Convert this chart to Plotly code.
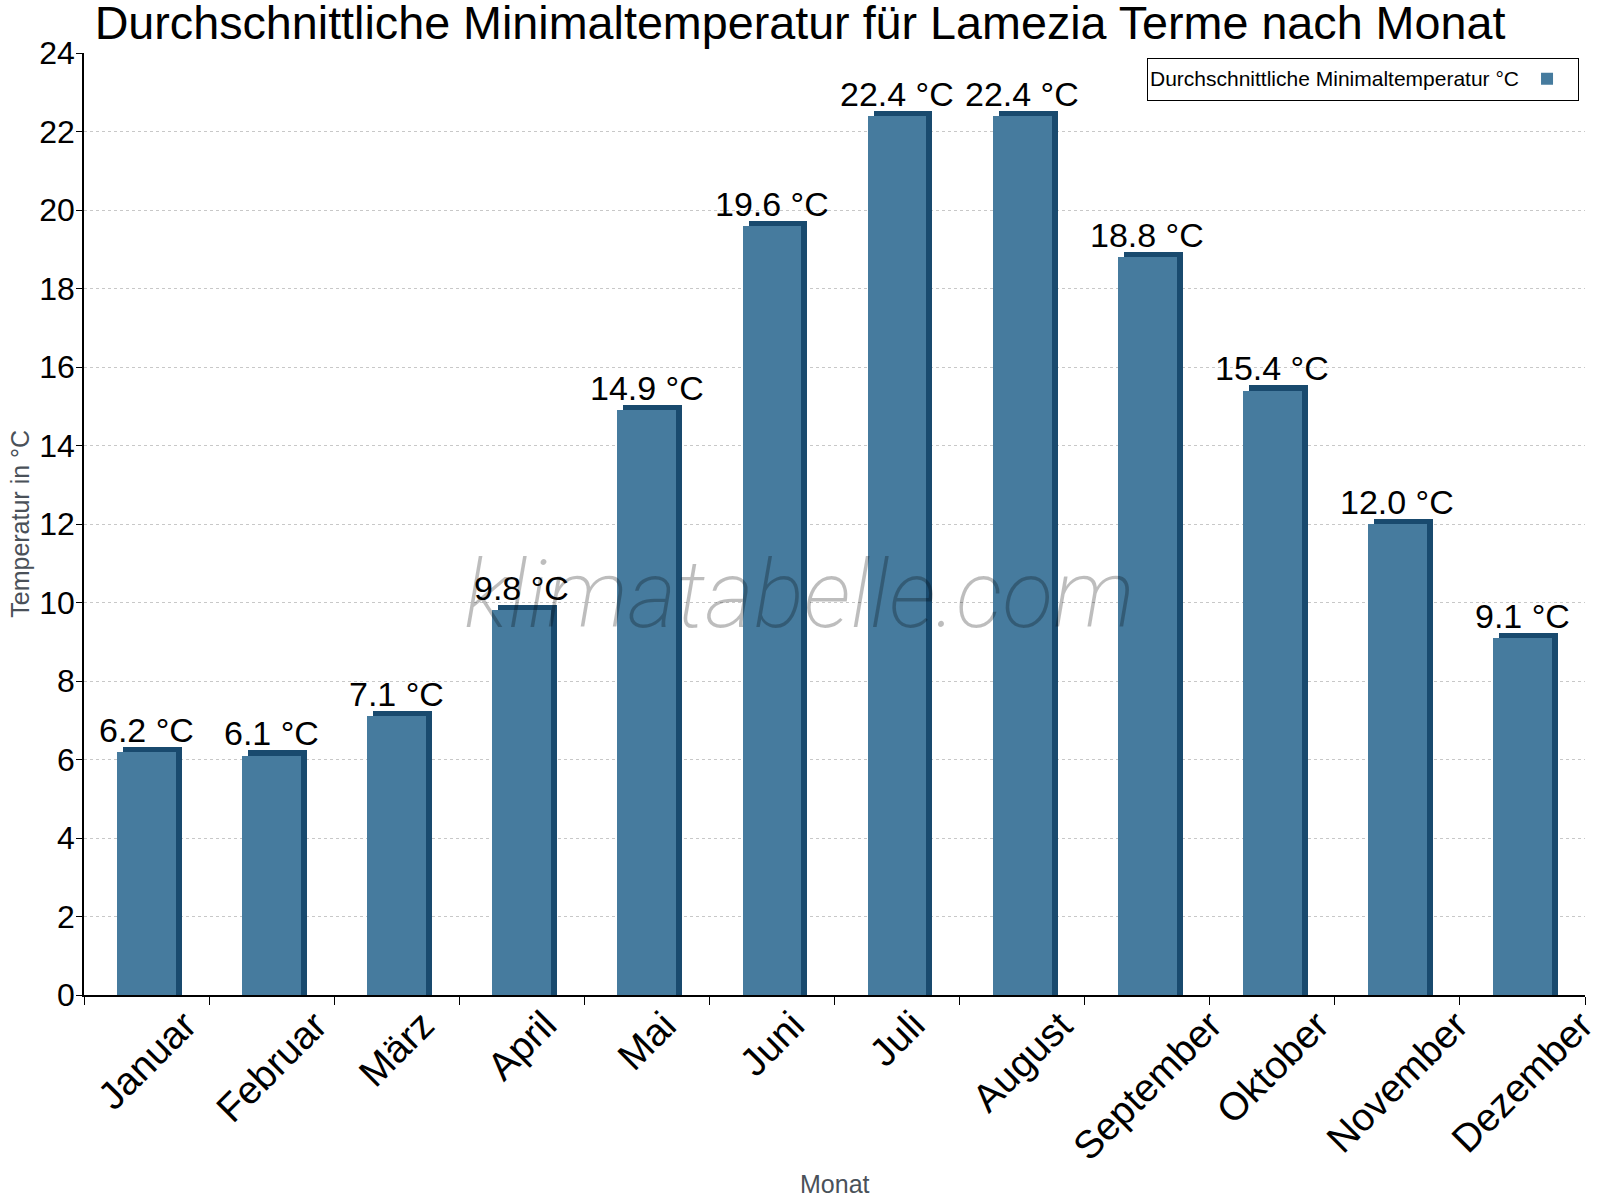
import plotly.graph_objects as go

months = ["Januar", "Februar", "März", "April", "Mai", "Juni", "Juli",
          "August", "September", "Oktober", "November", "Dezember"]
min_temp = [6.2, 6.1, 7.1, 9.8, 14.9, 19.6, 22.4, 22.4, 18.8, 15.4, 12.0, 9.1]
y_ticks = [0, 2, 4, 6, 8, 10, 12, 14, 16, 18, 20, 22, 24]

title_text = "Durchschnittliche Minimaltemperatur für Lamezia Terme nach Monat"
legend_text = "Durchschnittliche Minimaltemperatur °C"
x_title = "Monat"
y_title = "Temperatur in °C"
watermark = "klimatabelle.com"

FRONT = "#467b9e"
SIDE = "#194a6e"
AXIS_TITLE = "#4a5159"
FONT = "Liberation Sans, Arial, sans-serif"

bar_w = 0.47
depth_x = 0.048
depth_y = 0.13

fig = go.Figure()
# 3D depth (side + top) drawn as a darker bar shifted right/up
fig.add_trace(go.Bar(
    x=months, y=[v + depth_y for v in min_temp],
    width=bar_w, offset=-bar_w / 2 + depth_x,
    marker=dict(color=SIDE, line=dict(width=0)),
    showlegend=False, hoverinfo="skip"))
# front face
fig.add_trace(go.Bar(
    x=months, y=min_temp, name=" ",
    width=bar_w, offset=-bar_w / 2,
    marker=dict(color=FRONT, line=dict(color=SIDE, width=0)),
    showlegend=True))

# value labels
for m, v in zip(months, min_temp):
    fig.add_annotation(x=m, y=v + depth_y, text=f"{v:.1f} °C", showarrow=False,
                       yanchor="bottom", xanchor="center", yshift=-4,
                       font=dict(family=FONT, size=34, color="black"))

# rotated month labels, centred under each category
for m in months:
    fig.add_annotation(x=m, xref="x", yref="paper", y=0, yshift=-5,
                       text=m, showarrow=False, textangle=-45,
                       xanchor="center", yanchor="top",
                       font=dict(family=FONT, size=39, color="black"))

# axis titles
fig.add_annotation(xref="paper", yref="paper", x=0.5, y=-0.2006,
                   text=x_title, showarrow=False, xanchor="center", yanchor="middle",
                   font=dict(family=FONT, size=25, color=AXIS_TITLE))
fig.add_annotation(xref="paper", yref="paper", x=-0.0428, y=0.5,
                   text=y_title, showarrow=False, textangle=-90,
                   xanchor="center", yanchor="middle",
                   font=dict(family=FONT, size=25, color=AXIS_TITLE))

fig.add_annotation(xref="paper", yref="paper", x=0.477, y=0.425,
                   text=watermark, showarrow=False,
                   font=dict(family="Roboto, sans-serif", size=94,
                             color="rgba(0,0,0,0.26)", style="italic", weight=200))

fig.update_layout(
    width=1600, height=1200,
    paper_bgcolor="white", plot_bgcolor="white",
    barmode="overlay", bargap=0,
    margin=dict(l=84, r=15, t=53, b=205, autoexpand=False),
    font=dict(family=FONT, color="black"),
    title=dict(text=title_text, x=0.5, xanchor="center", y=0.981, yanchor="middle",
               pad=dict(t=0, b=0),
               font=dict(family=FONT, size=46.7, color="black")),
    legend=dict(
        title=dict(text=legend_text, side="left", font=dict(family=FONT, size=21)),
        x=0.996, xanchor="right", y=0.995, yanchor="top",
        bordercolor="black", borderwidth=1, bgcolor="white",
        font=dict(family=FONT, size=21), itemwidth=30,
        tracegroupgap=0,
    ),
    xaxis=dict(
        type="category", range=[-0.5, 11.5],
        showline=True, linecolor="black", linewidth=1.5,
        ticks="outside", tickson="boundaries", ticklen=8, tickcolor="black",
        showticklabels=False,
        showgrid=False, automargin=False,
    ),
    yaxis=dict(
        range=[0, 24], tickvals=y_ticks,
        showline=True, linecolor="black", linewidth=1.5,
        ticks="outside", ticklen=6, tickcolor="black",
        ticklabelstandoff=-5,
        tickfont=dict(family=FONT, size=32, color="black"),
        showgrid=True, gridcolor="#c8c8c8", griddash="dot", gridwidth=1,
        zeroline=False, automargin=False,
    ),
)

fig.write_html("out.html", config={"displayModeBar": False},
               post_script="document.body.style.margin='0';document.body.style.padding='0';")
